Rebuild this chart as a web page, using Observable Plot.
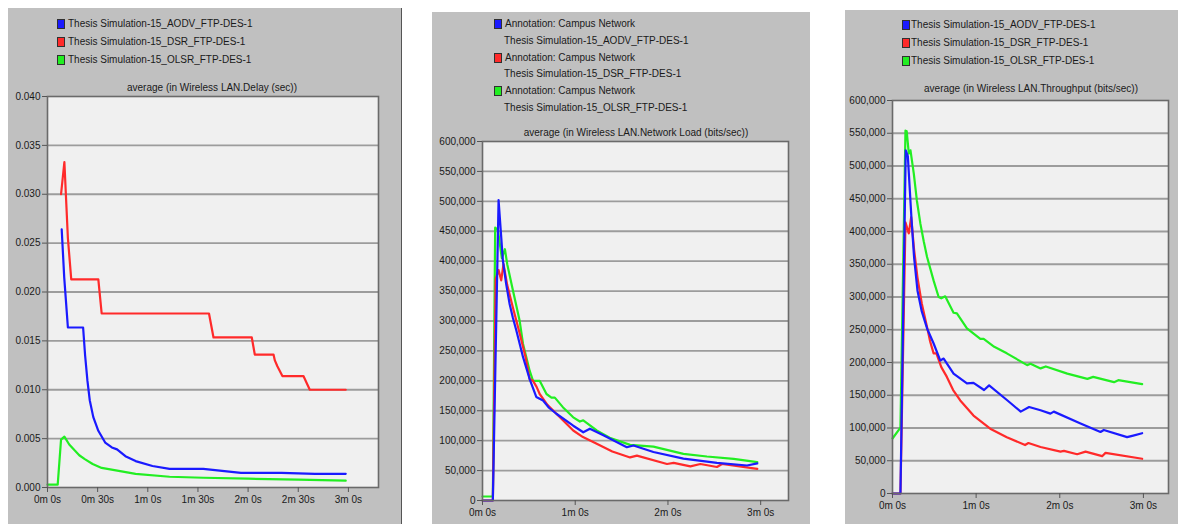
<!DOCTYPE html>
<html>
<head>
<meta charset="utf-8">
<script src="https://cdn.jsdelivr.net/npm/d3@7"></script>
<script src="https://cdn.jsdelivr.net/npm/@observablehq/plot@0.6"></script>
<style>
  html, body { margin: 0; padding: 0; background: #fff; }
  #root { position: relative; width: 1178px; height: 524px; overflow: hidden; font-family: "Liberation Sans", Arial, sans-serif; }
  .panel { position: absolute; background: #c0c0c0; }
  .txt { position: absolute; font-size: 10px; line-height: 12px; color: #1a1a1a; white-space: nowrap; }
  .sq { position: absolute; width: 6px; height: 8px; border: 1px solid #303030; }
  .ttl { position: absolute; font-size: 10px; line-height: 12px; color: #1a1a1a; white-space: nowrap; transform: translateX(-50%); }
  svg { position: absolute; }
</style>
</head>
<body>
<div id="root"></div>
<script>
// ---------- data (time in seconds, value) ----------
const seriesNames = ["Thesis Simulation-15_AODV_FTP-DES-1", "Thesis Simulation-15_DSR_FTP-DES-1", "Thesis Simulation-15_OLSR_FTP-DES-1"];
const seriesColors = ["#1a1aff", "#ff2a2a", "#22ee22"];
const annotation = "Annotation: Campus Network";
const titles = ["average (in Wireless LAN.Delay (sec))", "average (in Wireless LAN.Network Load (bits/sec))", "average (in Wireless LAN.Throughput (bits/sec))"];

const timeTicksDelay = [0, 30, 60, 90, 120, 150, 180];
const timeTicksLong = [0, 60, 120, 180];
const delayTicks = [0, 0.005, 0.010, 0.015, 0.020, 0.025, 0.030, 0.035, 0.040];
const bitTicks = [0, 50000, 100000, 150000, 200000, 250000, 300000, 350000, 400000, 450000, 500000, 550000, 600000];

const delayAODV = [[8.5,0.0264],[10,0.0215],[12.2,0.01637],[21.3,0.01637],[22.5,0.0135],[23.9,0.0109],[25.3,0.0089],[27.4,0.0072],[30.4,0.0058],[34.5,0.0046],[38.5,0.0041],[41.6,0.0039],[46.6,0.0032],[52.7,0.0027],[62.8,0.0022],[73,0.0019],[93.2,0.0019],[115.7,0.0015],[140,0.0015],[160,0.0014],[178.4,0.0014]];
const delayDSR = [[8.1,0.0300],[10.1,0.0333],[12.2,0.0255],[14.2,0.0213],[30.4,0.0213],[32.4,0.0178],[96.6,0.0178],[99.3,0.01535],[122.2,0.01535],[124,0.0136],[135.2,0.0136],[136,0.0130],[137.5,0.0124],[140.5,0.0114],[153.1,0.0114],[156.9,0.0100],[178.4,0.0100]];
const delayOLSR = [[0,0.0003],[6.1,0.0003],[8.1,0.0049],[10.1,0.0052],[13,0.0044],[16.2,0.0038],[19,0.0033],[22.3,0.0029],[27,0.0024],[32.4,0.0020],[42.6,0.0017],[52.7,0.0014],[73,0.0011],[93.2,0.0010],[120,0.0009],[150,0.0008],[178.4,0.0007]];

const loadAODV = [[0,0],[6.7,0],[10.4,502000],[13.2,401000],[15.3,362000],[17.5,329000],[19.7,305000],[21.9,284000],[26.2,240000],[30.5,203000],[34.8,173000],[39.2,167000],[43,155000],[47.8,145000],[58.7,125000],[65.2,114000],[69.5,120000],[78.2,109000],[93.4,89000],[97.7,92000],[110.6,81000],[130,70000],[151.7,63000],[171.2,58500],[177.8,62000]];
const loadDSR = [[0,0],[6.7,0],[8.5,370000],[10.4,385000],[12.1,368000],[13.6,395000],[16,360000],[19.7,322000],[24,280000],[28,238000],[30.5,203000],[32.7,200000],[35,190000],[37,178000],[42,160000],[47.8,145000],[58.7,117000],[65,106000],[73.9,95000],[84,82000],[95.5,72000],[99.9,75000],[119.4,61000],[123.7,63000],[134.5,57000],[141,61000],[151.7,56000],[155,61000],[177.8,53000]];
const loadOLSR = [[0,6700],[6.7,6700],[8.2,456000],[10,452000],[12.5,405000],[14.5,420000],[16,395000],[19.7,351000],[24,301000],[26.2,262000],[30.5,217000],[32.7,200000],[37,200000],[41.4,178000],[44.6,172000],[46.8,172000],[52,156000],[58.7,139000],[63,132000],[65.2,134000],[73.9,117000],[82.3,105000],[95.5,93000],[110.6,90000],[130,78000],[145.2,73500],[162.5,69600],[177.8,64000]];

const thrAODV = [[0,0],[5.7,0],[9.5,524000],[11,515000],[13.6,420000],[15.5,360000],[17.9,310000],[21,278000],[24.8,252000],[29.5,229000],[34.3,203000],[36.7,206000],[43.8,183000],[53.4,168000],[58.1,169000],[65.7,158000],[69.3,165000],[82.5,142000],[92,125000],[98,132000],[106.2,127000],[113.3,122000],[115.7,125000],[134.9,107000],[149.2,94000],[151.6,97000],[168.3,86000],[172,88000],[179.1,92000]];
const thrDSR = [[0,0],[5.7,0],[9.3,414000],[11.7,397000],[13.4,422000],[15.5,372000],[17.9,330000],[21,290000],[24.8,254000],[27,232000],[29.5,214000],[31.5,214000],[35,193000],[39,178000],[43.5,158000],[48.6,142000],[58.1,119000],[70.1,99000],[82,86000],[95.1,74000],[97.5,77000],[106.2,71000],[120.5,64000],[123,65000],[132.5,60000],[138.5,64000],[150.4,57000],[152.8,62000],[179.1,53000]];
const thrOLSR = [[0,84000],[5.7,100700],[9.3,554000],[10.2,553000],[11.7,519000],[12.9,524000],[15.3,488000],[17.5,447000],[20,412000],[22.4,385000],[24.8,361000],[29.5,325000],[33.1,300000],[35,298000],[37.8,301000],[43.8,276000],[46.2,275000],[53.4,252000],[63,236000],[65.4,236000],[73,224000],[82,214000],[96.6,196000],[99,198000],[106.2,191000],[110,194000],[125.4,183000],[139.8,175000],[144,178000],[158.9,170000],[162,173000],[179.1,167000]];

// ---------- helpers ----------
const root = document.getElementById("root");
const timeFmt = s => `${Math.floor(s / 60)}m ${s % 60}s`;
function el(cls, css, text) {
  const d = document.createElement("div");
  d.className = cls;
  Object.assign(d.style, css);
  if (text != null) d.textContent = text;
  root.appendChild(d);
  return d;
}

function chart({svgLeft, svgTop, width, height, mL, mR, mT, mB, yDomain, yTicks, yFmt, xTicks, series}) {
  const marks = [
    Plot.frame({fill: "#f0f0f0"}),
    Plot.ruleY(yTicks.slice(1, -1), {stroke: "#9c9c9c", strokeWidth: 1.8}),
    ...[2, 1, 0].map(i => Plot.line(series[i], {x: d => d[0], y: d => d[1], stroke: seriesColors[i], strokeWidth: 2.2})),
    Plot.frame({stroke: "#6a6a6a", strokeWidth: 1.6}),
    Plot.axisY({ticks: yTicks, tickFormat: yFmt, tickSize: 5, tickPadding: 2, label: null, stroke: "#555"}),
    Plot.axisX({ticks: xTicks, tickFormat: timeFmt, tickSize: 5, tickPadding: 3, label: null, stroke: "#555"})
  ];
  const svg = Plot.plot({
    width, height,
    marginLeft: mL, marginRight: mR, marginTop: mT, marginBottom: mB,
    style: {background: "transparent", fontFamily: "Liberation Sans, Arial, sans-serif", fontSize: "10px", color: "#1a1a1a", overflow: "visible"},
    x: {domain: [0, 198]},
    y: {domain: yDomain},
    marks
  });
  svg.style.left = svgLeft + "px";
  svg.style.top = svgTop + "px";
  root.appendChild(svg);
}

// ---------- panel 1: delay ----------
el("panel", {left: "8px", top: "8px", width: "393px", height: "516px", borderRight: "1px solid #555"});
[0, 1, 2].forEach(i => {
  const cy = 23.5 + i * 18;
  el("sq", {left: "57px", top: (cy - 5) + "px", background: seriesColors[i]});
  el("txt", {left: "68px", top: (cy - 6) + "px"}, seriesNames[i]);
});
el("ttl", {left: "212px", top: "82px"}, titles[0]);
chart({svgLeft: 8, svgTop: 80, width: 394, height: 444, mL: 39, mR: 24, mT: 16, mB: 37,
  yDomain: [0, 0.04], yTicks: delayTicks, yFmt: d3.format(".3f"), xTicks: timeTicksDelay,
  series: [delayAODV, delayDSR, delayOLSR]});

// ---------- panel 2: network load ----------
el("panel", {left: "432px", top: "12px", width: "378px", height: "512px"});
[0, 1, 2].forEach(i => {
  const cy = 24 + i * 33.5;
  el("sq", {left: "494px", top: (cy - 5) + "px", background: seriesColors[i]});
  el("txt", {left: "505px", top: (cy - 6) + "px"}, annotation);
  el("txt", {left: "504px", top: (cy + 16.7 - 6) + "px"}, seriesNames[i]);
});
el("ttl", {left: "636px", top: "127px"}, titles[1]);
chart({svgLeft: 432, svgTop: 125, width: 378, height: 399, mL: 50, mR: 22, mT: 16, mB: 24,
  yDomain: [0, 600000], yTicks: bitTicks, yFmt: d3.format(","), xTicks: timeTicksLong,
  series: [loadAODV, loadDSR, loadOLSR]});

// ---------- panel 3: throughput ----------
el("panel", {left: "845px", top: "10px", width: "333px", height: "514px"});
[0, 1, 2].forEach(i => {
  const cy = 25 + i * 18;
  el("sq", {left: "902px", top: (cy - 5) + "px", background: seriesColors[i]});
  el("txt", {left: "911px", top: (cy - 6) + "px"}, seriesNames[i]);
});
el("ttl", {left: "1031px", top: "83px"}, titles[2]);
chart({svgLeft: 845, svgTop: 85, width: 333, height: 439, mL: 47, mR: 10, mT: 15, mB: 31,
  yDomain: [0, 600000], yTicks: bitTicks, yFmt: d3.format(","), xTicks: timeTicksLong,
  series: [thrAODV, thrDSR, thrOLSR]});
</script>
</body>
</html>
